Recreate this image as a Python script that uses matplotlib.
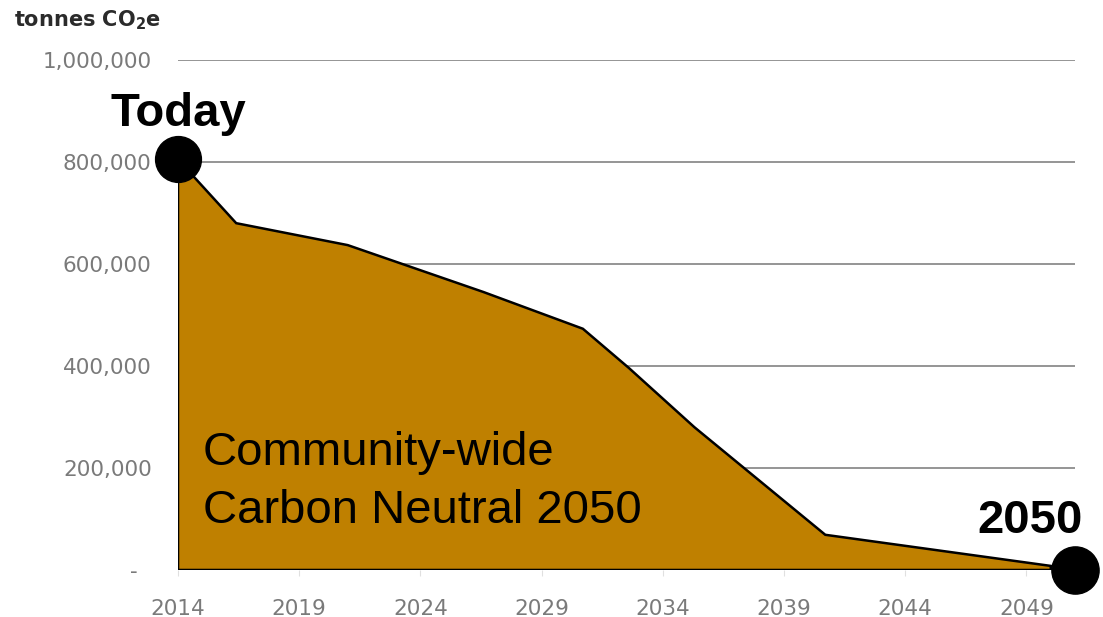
"""
Community-wide emissions pathway to carbon neutrality
"""

import matplotlib
matplotlib.use('Agg')
import matplotlib.pyplot as plt
import matplotlib.ticker as mticker

#---------------------------------------------------------------------------------------------------
# Input Parameters
#---------------------------------------------------------------------------------------------------

# Emissions pathway (tonnes CO2e)
years = [2014, 2016.4, 2021, 2026.6, 2030.7, 2032.6, 2035.3, 2040.7, 2050]
emissions = [805000, 680000, 637000, 545000, 473000, 396000, 280000, 69000, 8000]

# Axis ticks
xticks = [2014, 2019, 2024, 2029, 2034, 2039, 2044, 2049]
yticks = [0, 200000, 400000, 600000, 800000, 1000000]

# Annotation text
text_lines = ['Community-wide', 'Carbon Neutral 2050']

fill_color = '#BF8000'
tick_color = '#7A7A7A'
label_font = 'DejaVu Sans'
anno_font = 'Liberation Sans'

#---------------------------------------------------------------------------------------------------
# Main Program
#---------------------------------------------------------------------------------------------------

fig = plt.figure(figsize=(11.03, 6.17), dpi=100)
ax = fig.add_axes([0.1614, 0.0762, 0.8132, 0.8266])

# Gridlines
ax.set_axisbelow(True)
ax.yaxis.grid(True, color='#8C8C8C', lw=1.3)

# Area with black outline
xs = [years[0]] + years + [years[-1]]
ys = [0] + emissions + [0]
ax.fill(xs, ys, facecolor=fill_color, edgecolor='black', lw=1.8, joinstyle='miter', zorder=2)

# Limits and ticks
ax.set_xlim(2014, 2051)
ax.set_ylim(0, 1000000)
ax.set_xticks(xticks)
ax.set_yticks(yticks)
# accounting-style zero, shown as a dash
ax.yaxis.set_major_formatter(mticker.FuncFormatter(lambda v, pos: '-  ' if v == 0 else f"{v:,.0f}"))
ax.tick_params(axis='y', length=0, pad=19, labelsize=15.5, labelcolor=tick_color)
ax.tick_params(axis='x', length=4, color='#E0E0E0', pad=17, labelsize=15.5, labelcolor=tick_color)
for lab in ax.get_xticklabels() + ax.get_yticklabels():
    lab.set_family(label_font)
for s in ax.spines.values():
    s.set_visible(False)

# Unit label
fig.text(0.013, 0.957, 'tonnes CO$_\\mathbf{2}$e', fontsize=15, fontweight='bold', color='#2B2B2B',
         family=label_font, ha='left', va='baseline')

# Markers for start and end
ax.plot(years[0], emissions[0], 'o', ms=33, color='black', clip_on=False, zorder=5)
ax.plot(1.0, 0.0, 'o', ms=34, color='black', clip_on=False, zorder=5, transform=ax.transAxes)

# Annotations
ax.text(years[0], 870000, 'Today', fontsize=34, fontweight='bold', family=anno_font,
        ha='center', va='baseline', zorder=6)
ax.text(2049.15, 72500, '2050', fontsize=34, fontweight='bold', family=anno_font,
        ha='center', va='baseline', zorder=6)
for line, base in zip(text_lines, [206000, 92000]):
    ax.text(2015.03, base, line, fontsize=34, family=anno_font,
            ha='left', va='baseline', zorder=6)

plt.savefig('out.png', dpi=100)
plt.close()
